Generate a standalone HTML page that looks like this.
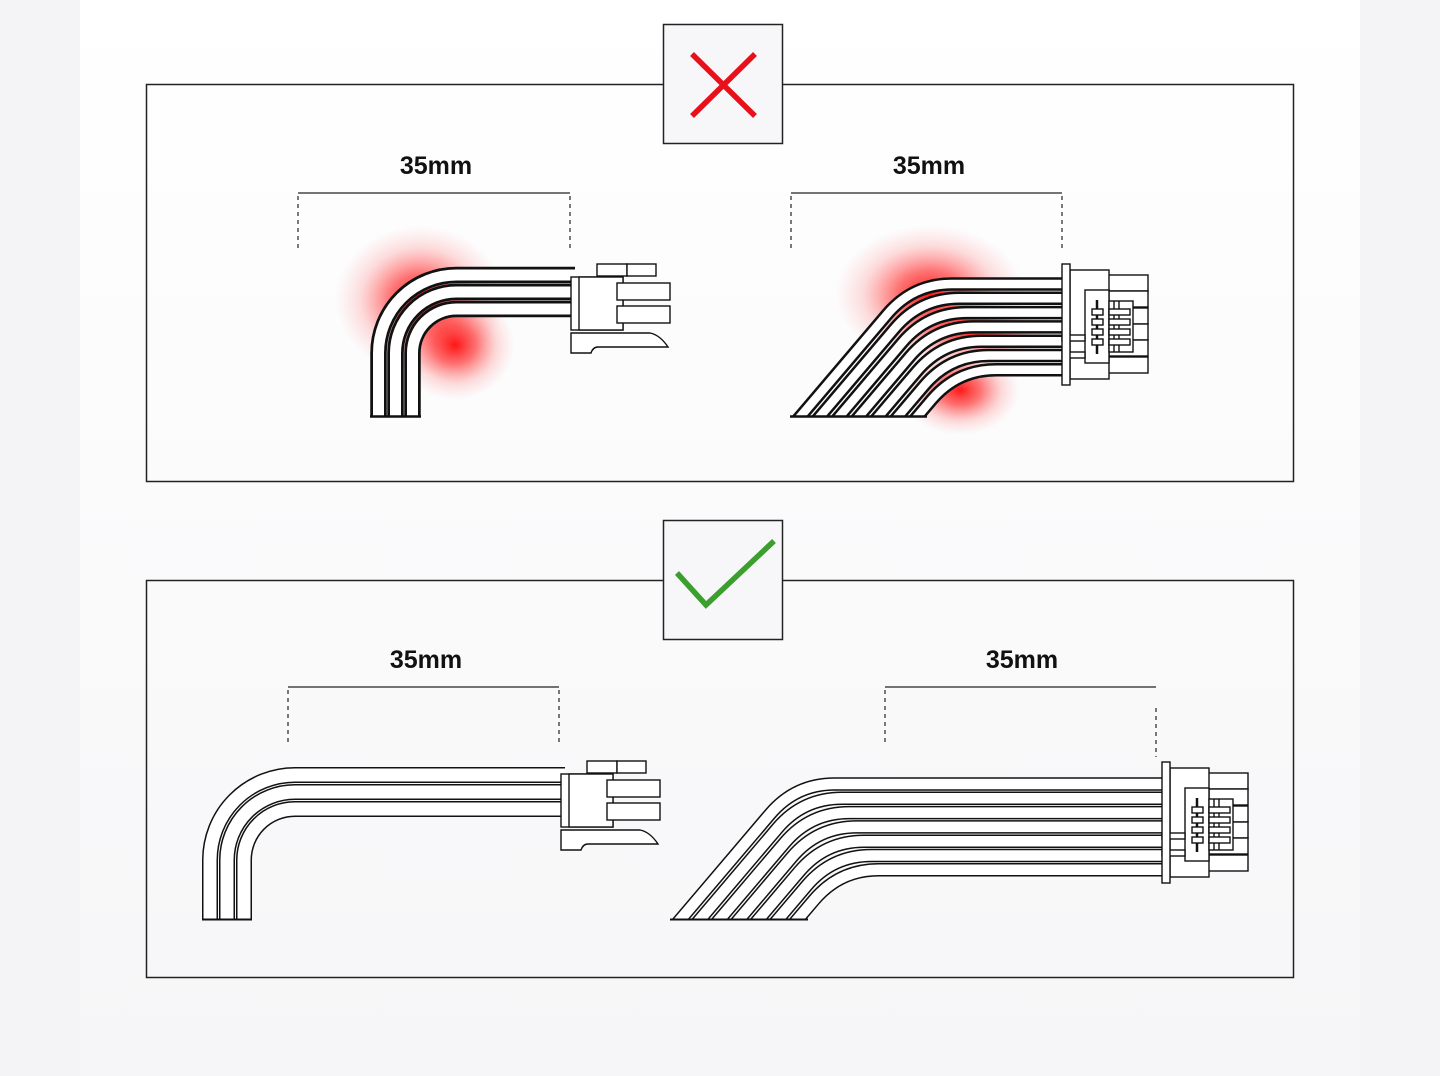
<!DOCTYPE html>
<html><head><meta charset="utf-8"><style>
html,body{margin:0;padding:0;width:1440px;height:1076px;overflow:hidden;background:#f4f4f6}
svg{display:block}
text{font-family:"Liberation Sans",sans-serif;font-weight:bold;font-size:25px;fill:#111}
</style></head><body>
<svg width="1440" height="1076" viewBox="0 0 1440 1076" xmlns="http://www.w3.org/2000/svg">
<defs>
<linearGradient id="bg" x1="0" y1="0" x2="0" y2="1"><stop offset="0" stop-color="#ffffff"/><stop offset="1" stop-color="#f6f6f8"/></linearGradient>
<radialGradient id="rg"><stop offset="0" stop-color="#ff0000" stop-opacity="0.9"/><stop offset="0.35" stop-color="#ff1a1a" stop-opacity="0.6"/><stop offset="0.7" stop-color="#ff5050" stop-opacity="0.2"/><stop offset="1" stop-color="#ff8080" stop-opacity="0"/></radialGradient>
<clipPath id="c1"><rect x="0" y="0" width="1440" height="417"/></clipPath>
<clipPath id="c2"><rect x="0" y="500" width="1440" height="420"/></clipPath>
<g id="lconn" fill="#fff" stroke="#111" stroke-width="1.4">
<rect x="26" y="0" width="30" height="12"/><rect x="56" y="0" width="29" height="12"/>
<rect x="0" y="13" width="52" height="53"/><rect x="8" y="13" width="44" height="53"/>
<rect x="46" y="19" width="53" height="17"/><rect x="46" y="42" width="53" height="17"/>
<path d="M0 69 H79 Q89 71 97 83 H27 Q22 83 20 89 H0 Z"/>
</g>
<g id="rconn" fill="#fff" stroke="#111" stroke-width="1.4">
<rect x="46" y="11" width="40" height="16"/><rect x="46" y="27" width="40" height="16"/><rect x="46" y="44" width="40" height="16"/><rect x="46" y="60" width="40" height="16"/><rect x="46" y="76" width="40" height="16"/><rect x="46" y="93" width="40" height="16"/>
<rect x="8" y="6" width="39" height="109"/>
<rect x="23" y="26" width="24" height="73"/>
<rect x="47" y="37" width="24" height="51"/>
<line x1="35" y1="36" x2="35" y2="90" stroke-width="2.5"/>
<rect x="30" y="45" width="11" height="6"/><rect x="30" y="55" width="11" height="6"/><rect x="30" y="65" width="11" height="6"/><rect x="30" y="75" width="11" height="6"/>
<line x1="52" y1="37" x2="52" y2="88"/><line x1="57" y1="37" x2="57" y2="88"/>
<rect x="47" y="45" width="21" height="6"/><rect x="47" y="55" width="21" height="6"/><rect x="47" y="65" width="21" height="6"/><rect x="47" y="75" width="21" height="6"/>
<rect x="0" y="71" width="23" height="6"/><rect x="0" y="88" width="23" height="6"/>
<rect x="0" y="0" width="8" height="121"/>
</g>
</defs>
<rect x="80" y="0" width="1280" height="1076" fill="url(#bg)"/>

<rect x="146.5" y="84.5" width="1147" height="397" fill="none" stroke="#222" stroke-width="1.5"/>
<rect x="146.5" y="580.5" width="1147" height="397" fill="none" stroke="#222" stroke-width="1.5"/>
<rect x="663.5" y="24.5" width="119" height="119" fill="#f7f7f9" stroke="#222" stroke-width="1.5"/>
<rect x="663.5" y="520.5" width="119" height="119" fill="#f7f7f9" stroke="#222" stroke-width="1.5"/>
<path d="M692 54 L755 116 M755 54 L692 116" stroke="#e8101a" stroke-width="5.5" fill="none"/>
<path d="M677 573 L706 605 L774 541" stroke="#3a9f2c" stroke-width="5.5" fill="none"/>

<g stroke="#222" stroke-width="1.2" fill="none">
<line x1="298" y1="193" x2="570" y2="193"/><line x1="791" y1="193" x2="1062" y2="193"/>
<line x1="288" y1="687" x2="559" y2="687"/><line x1="885" y1="687" x2="1156" y2="687"/>
<g stroke-dasharray="4 4">
<line x1="298" y1="196" x2="298" y2="250"/><line x1="570" y1="196" x2="570" y2="250"/>
<line x1="791" y1="196" x2="791" y2="250"/><line x1="1062" y1="196" x2="1062" y2="250"/>
<line x1="288" y1="690" x2="288" y2="745"/><line x1="559" y1="690" x2="559" y2="745"/>
<line x1="885" y1="690" x2="885" y2="745"/><line x1="1156" y1="708" x2="1156" y2="757"/>
</g></g>
<text x="436" y="174" text-anchor="middle">35mm</text>
<text x="929" y="174" text-anchor="middle">35mm</text>
<text x="426" y="668" text-anchor="middle">35mm</text>
<text x="1022" y="668" text-anchor="middle">35mm</text>

<ellipse cx="420" cy="300" rx="85" ry="75" fill="url(#rg)"/>
<ellipse cx="455" cy="345" rx="60" ry="55" fill="url(#rg)"/>
<ellipse cx="930" cy="295" rx="95" ry="70" fill="url(#rg)"/>
<ellipse cx="975" cy="330" rx="80" ry="35" fill="url(#rg)"/>
<ellipse cx="960" cy="390" rx="60" ry="45" fill="url(#rg)"/>

<g clip-path="url(#c1)" fill="none">
<g stroke="#111" stroke-width="16.5">
<path d="M378.5 425 V353 A78 78 0 0 1 456.5 275 H575"/>
<path d="M395.5 425 V353 A61 61 0 0 1 456.5 292 H575"/>
<path d="M412.5 425 V353 A44 44 0 0 1 456.5 309 H575"/>
</g>
<g stroke="#fff" stroke-width="11">
<path d="M378.5 425 V353 A78 78 0 0 1 456.5 275 H575"/>
<path d="M395.5 425 V353 A61 61 0 0 1 456.5 292 H575"/>
<path d="M412.5 425 V353 A44 44 0 0 1 456.5 309 H575"/>
</g></g>
<line x1="370" y1="416.5" x2="421" y2="416.5" stroke="#111" stroke-width="2.5"/>
<use href="#lconn" x="571" y="264"/>

<g clip-path="url(#c1)" fill="none">
<g stroke="#111" stroke-width="13.5">
<path d="M793.2 425 L887.5 314 Q913 284 952 284 H1062"/>
<path d="M812.7 425 L894.9 328.3 Q920.4 298.3 959.4 298.3 H1062"/>
<path d="M832.2 425 L902.2 342.6 Q927.7 312.6 966.7 312.6 H1062"/>
<path d="M851.7 425 L909.6 356.9 Q935.1 326.9 974.1 326.9 H1062"/>
<path d="M871.2 425 L916.9 371.2 Q942.4 341.2 981.4 341.2 H1062"/>
<path d="M890.7 425 L924.3 385.5 Q949.8 355.5 988.8 355.5 H1062"/>
<path d="M910.2 425 L931.6 399.8 Q957.1 369.8 996.1 369.8 H1062"/>
</g>
<g stroke="#fff" stroke-width="8.5">
<path d="M793.2 425 L887.5 314 Q913 284 952 284 H1062"/>
<path d="M812.7 425 L894.9 328.3 Q920.4 298.3 959.4 298.3 H1062"/>
<path d="M832.2 425 L902.2 342.6 Q927.7 312.6 966.7 312.6 H1062"/>
<path d="M851.7 425 L909.6 356.9 Q935.1 326.9 974.1 326.9 H1062"/>
<path d="M871.2 425 L916.9 371.2 Q942.4 341.2 981.4 341.2 H1062"/>
<path d="M890.7 425 L924.3 385.5 Q949.8 355.5 988.8 355.5 H1062"/>
<path d="M910.2 425 L931.6 399.8 Q957.1 369.8 996.1 369.8 H1062"/>
</g></g>
<line x1="790" y1="416.5" x2="927" y2="416.5" stroke="#111" stroke-width="2.5"/>
<use href="#rconn" x="1062" y="264"/>

<g clip-path="url(#c2)" fill="none">
<g stroke="#111" stroke-width="16">
<path d="M210 928 V860 A85 85 0 0 1 295 775 H565"/>
<path d="M227 928 V860 A68 68 0 0 1 295 792 H565"/>
<path d="M244 928 V860 A51 51 0 0 1 295 809 H565"/>
</g>
<g stroke="#fff" stroke-width="13">
<path d="M210 928 V860 A85 85 0 0 1 295 775 H565"/>
<path d="M227 928 V860 A68 68 0 0 1 295 792 H565"/>
<path d="M244 928 V860 A51 51 0 0 1 295 809 H565"/>
</g></g>
<line x1="202" y1="919.5" x2="252" y2="919.5" stroke="#111" stroke-width="2"/>
<use href="#lconn" x="561" y="761"/>

<g clip-path="url(#c2)" fill="none">
<g stroke="#111" stroke-width="13.5">
<path d="M673.2 928 L770.1 814 Q795.6 784 834.6 784 H1162"/>
<path d="M692.7 928 L777.4 828.3 Q802.9 798.3 841.9 798.3 H1162"/>
<path d="M712.2 928 L784.8 842.6 Q810.3 812.6 849.3 812.6 H1162"/>
<path d="M731.7 928 L792.1 856.9 Q817.6 826.9 856.6 826.9 H1162"/>
<path d="M751.2 928 L799.5 871.2 Q825 841.2 864 841.2 H1162"/>
<path d="M770.7 928 L806.8 885.5 Q832.3 855.5 871.3 855.5 H1162"/>
<path d="M790.2 928 L814.2 899.8 Q839.7 869.8 878.7 869.8 H1162"/>
</g>
<g stroke="#fff" stroke-width="10.5">
<path d="M673.2 928 L770.1 814 Q795.6 784 834.6 784 H1162"/>
<path d="M692.7 928 L777.4 828.3 Q802.9 798.3 841.9 798.3 H1162"/>
<path d="M712.2 928 L784.8 842.6 Q810.3 812.6 849.3 812.6 H1162"/>
<path d="M731.7 928 L792.1 856.9 Q817.6 826.9 856.6 826.9 H1162"/>
<path d="M751.2 928 L799.5 871.2 Q825 841.2 864 841.2 H1162"/>
<path d="M770.7 928 L806.8 885.5 Q832.3 855.5 871.3 855.5 H1162"/>
<path d="M790.2 928 L814.2 899.8 Q839.7 869.8 878.7 869.8 H1162"/>
</g></g>
<line x1="670" y1="919.5" x2="808" y2="919.5" stroke="#111" stroke-width="2"/>
<use href="#rconn" x="1162" y="762"/>
</svg>
</body></html>
